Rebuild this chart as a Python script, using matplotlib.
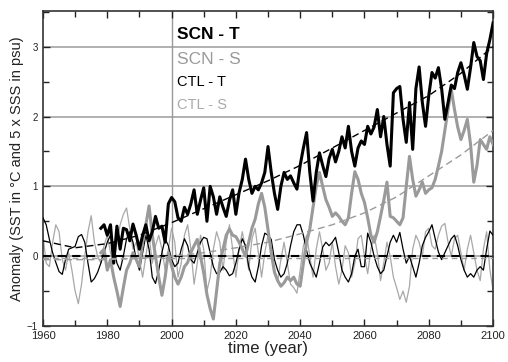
import numpy as np
import matplotlib
matplotlib.use("Agg")
import matplotlib.pyplot as plt
from matplotlib.ticker import MultipleLocator

plt.rcParams['font.family'] = ['Liberation Sans', 'DejaVu Sans']

# years
scn_years = list(range(1978, 2101))
ctl_years = list(range(1960, 2101))

# SCN - T (thick black), 1978..2100
scn_t = [0.40, 0.45, 0.30, 0.45, -0.10, 0.43, 0.10, 0.40, 0.38, 0.22,
         0.46, 0.30, 0.10, 0.30, 0.45, 0.22, 0.35, 0.57, 0.40, 0.43,
         0.20, 0.75, 0.84, 0.78, 0.55, 0.50, 0.70, 0.60, 0.75, 0.95,
         0.60, 0.80, 0.98, 0.50, 1.00, 0.85, 0.60, 0.85, 0.70, 0.57,
         0.80, 0.95, 0.60, 0.91, 1.10, 1.39, 1.10, 0.90, 1.00, 0.95,
         1.05, 1.20, 1.57, 1.20, 0.90, 0.67, 1.00, 1.20, 1.10, 1.15,
         1.05, 0.96, 1.30, 1.55, 1.77, 1.20, 0.79, 1.20, 1.48, 1.30,
         1.14, 1.40, 1.53, 1.35, 1.50, 1.71, 1.55, 1.86, 1.50, 1.29,
         1.55, 1.65, 1.60, 1.86, 1.75, 1.85, 2.10, 1.71, 2.00, 1.60,
         1.29, 2.34, 2.40, 2.43, 1.96, 1.63, 2.20, 1.53, 2.40, 2.71,
         2.20, 1.86, 2.30, 2.63, 2.55, 2.70, 2.40, 1.96, 2.20, 2.45,
         2.40, 2.63, 2.77, 2.60, 2.39, 2.70, 3.06, 2.86, 2.80, 2.53,
         2.90, 3.10, 3.34]

# SCN - S (thick grey), 1978..2100
scn_s = [0.05, 0.10, -0.20, -0.05, -0.30, -0.50, -0.72, -0.45, -0.20, -0.10,
         0.05, -0.05, -0.15, 0.20, 0.45, 0.72, 0.30, 0.00, -0.30, -0.56,
         -0.30, 0.05, -0.14, -0.30, -0.40, -0.30, -0.15, -0.09, 0.05, 0.15,
         0.24, 0.00, -0.24, -0.55, -0.75, -0.90, -0.50, -0.10, 0.10, 0.30,
         0.39, 0.30, 0.28, 0.20, 0.10, 0.00, 0.20, 0.40, 0.53, 0.75,
         0.90, 0.70, 0.38, 0.05, -0.23, -0.35, -0.43, -0.38, -0.30, -0.35,
         -0.30, -0.40, -0.43, -0.10, 0.20, 0.39, 0.70, 1.00, 1.20, 1.00,
         0.81, 0.70, 0.57, 0.62, 0.57, 0.50, 0.45, 0.55, 0.90, 1.21,
         1.10, 0.90, 0.77, 0.55, 0.30, 0.20, 0.35, 0.57, 0.80, 1.06,
         0.57, 0.55, 0.50, 0.45, 0.55, 1.00, 1.43, 1.10, 0.86, 0.95,
         1.06, 0.90, 0.95, 0.98, 1.10, 1.29, 1.50, 1.80, 2.10, 2.39,
         2.10, 1.85, 1.67, 1.80, 1.96, 1.60, 1.06, 1.30, 1.67, 1.60,
         1.53, 1.71, 1.60]

# CTL - T (thin black), 1960..2100
ctl_t = [0.55, 0.45, 0.24, 0.05, -0.09, -0.22, -0.26, -0.05, 0.10, 0.12,
         0.14, 0.28, 0.31, 0.20, -0.10, -0.37, -0.32, -0.23, -0.10, 0.05,
         0.20, 0.30, 0.15, -0.10, -0.20, 0.00, 0.25, 0.35, 0.20, -0.05,
         -0.20, 0.05, 0.30, 0.10, -0.30, -0.39, -0.20, 0.05, 0.25, 0.15,
         -0.05, -0.15, -0.10, 0.10, 0.25, 0.15, -0.05, -0.10, 0.05, 0.20,
         0.27, 0.25, 0.05, -0.15, -0.25, -0.23, -0.15, -0.20, -0.28, -0.25,
         -0.10, 0.10, 0.25, 0.15, -0.15, -0.30, -0.37, -0.15, 0.15, 0.33,
         0.30, 0.24, -0.05, -0.20, -0.30, -0.25, -0.10, 0.15, 0.35, 0.45,
         0.45, 0.30, 0.08, -0.10, -0.20, -0.30, -0.10, 0.13, 0.20, 0.15,
         0.20, 0.27, 0.05, -0.20, -0.30, -0.37, -0.25, 0.00, 0.10, -0.15,
         -0.15, 0.33, 0.20, 0.00, -0.15, -0.25, -0.20, 0.00, 0.20, 0.30,
         0.20, 0.34, 0.10, -0.10, 0.00, -0.15, -0.30, -0.10, 0.15, 0.27,
         0.35, 0.45, 0.25, 0.06, -0.05, 0.05, 0.15, 0.25, 0.30, 0.15,
         -0.05, -0.20, -0.30, -0.25, -0.30, -0.20, -0.15, -0.20, 0.10, 0.36,
         0.30]

# CTL - S (thin grey), 1960..2100
ctl_s = [0.30, -0.10, -0.15, 0.20, 0.45, 0.35, -0.05, -0.20, 0.05, -0.20,
         -0.50, -0.68, -0.40, 0.00, 0.35, 0.58, 0.20, 0.00, -0.10, 0.15,
         0.30, 0.05, -0.10, 0.20, 0.45, 0.60, 0.69, 0.40, 0.10, 0.20,
         -0.05, -0.30, 0.00, 0.30, -0.10, 0.15, 0.30, 0.10, -0.20, 0.10,
         0.40, 0.20, -0.30, -0.10, 0.30, 0.45, 0.10, -0.40, -0.10, 0.30,
         0.10, -0.50, -0.30, 0.10, 0.35, 0.20, -0.20, 0.20, 0.45, 0.10,
         -0.30, 0.10, 0.35, 0.10, -0.20, 0.25, 0.40, 0.05, -0.30, 0.05,
         0.30, 0.15, -0.20, -0.35, -0.05, 0.20, -0.10, -0.40, -0.45, -0.53,
         -0.20, 0.15, 0.30, 0.00, -0.30, 0.10, 0.35, 0.10, -0.20, -0.10,
         0.20, -0.15, -0.40, -0.20, 0.15, 0.05, -0.30, -0.10, 0.25, 0.30,
         0.00, -0.25, 0.10, 0.30, 0.05, -0.35, -0.10, 0.20, 0.00, -0.30,
         -0.45, -0.62, -0.50, -0.66, -0.43, 0.10, 0.30, 0.20, 0.00, 0.35,
         0.40, 0.15, 0.10, 0.30, 0.43, 0.47, 0.20, 0.00, 0.25, 0.30,
         0.05, -0.20, 0.10, 0.30, 0.05, -0.20, -0.35, 0.10, 0.35, -0.19,
         -0.49]

# trend curves, read at decadal points
trend_years = [1960, 1970, 1980, 1990, 2000, 2010, 2020, 2030,
               2040, 2050, 2060, 2070, 2080, 2090, 2100]
scn_t_trend = [0.22, 0.12, 0.18, 0.30, 0.48, 0.68, 0.88, 1.08,
               1.30, 1.55, 1.80, 2.05, 2.30, 2.62, 3.00]
scn_s_trend = [-0.05, -0.05, -0.05, -0.03, 0.00, 0.05, 0.12, 0.20,
               0.32, 0.45, 0.62, 0.85, 1.15, 1.45, 1.80]
ctl_t_trend = [0.0] * len(trend_years)
ctl_s_trend = [-0.02] * len(trend_years)

grey = '#9a9a9a'

fig = plt.figure(figsize=(5.08, 3.62), dpi=100)
ax = fig.add_axes([0.0846, 0.0994, 0.886, 0.870])

# grid lines
for v in [0, 1, 2, 3]:
    ax.axhline(v, color='#aaaaaa', lw=1.3, zorder=1)
ax.axvline(2000, color='#999999', lw=1.0, zorder=1)

ax.plot(ctl_years, ctl_s, color='#a8a8a8', lw=0.9, zorder=2)
ax.plot(ctl_years, ctl_t, color='black', lw=0.9, zorder=3)
ax.plot(scn_years, scn_s, color=grey, lw=2.2, zorder=4)
ax.plot(scn_years, scn_t, color='black', lw=2.2, zorder=5)

ax.plot(trend_years, ctl_s_trend, color=grey, lw=1.0, ls=(0, (4, 3)), zorder=6)
ax.plot(trend_years, ctl_t_trend, color='black', lw=1.5, ls=(0, (4, 3)), zorder=6)
ax.plot(trend_years, scn_s_trend, color=grey, lw=1.0, ls=(0, (5, 3)), zorder=6)
ax.plot(trend_years, scn_t_trend, color='black', lw=1.0, ls=(0, (5, 3)), zorder=6)

ax.set_xlim(1960, 2100)
ax.set_ylim(-1, 3.51)
ax.xaxis.set_major_locator(MultipleLocator(20))
ax.xaxis.set_minor_locator(MultipleLocator(10))
ax.yaxis.set_major_locator(MultipleLocator(1))
ax.yaxis.set_minor_locator(MultipleLocator(0.5))
ax.tick_params(which='both', direction='in', top=True, right=True,
               labelsize=8, colors='#222222')
ax.tick_params(which='major', length=5, width=1.0)
ax.tick_params(which='minor', length=4, width=1.0)
ax.tick_params(axis='y', labelsize=7)
for s in ax.spines.values():
    s.set_linewidth(1.2)
    s.set_color('#333333')

ax.set_xlabel('time (year)', fontsize=12, labelpad=0, color='#222222')
ax.set_ylabel('Anomaly (SST in \u00b0C and 5 x SSS in psu)', fontsize=10.5,
              labelpad=2, color='#222222')

# labels in place of a legend
lx = 2001.7
ax.text(lx, 3.17, 'SCN - T', fontsize=12.5, fontweight='bold', color='black', va='center')
ax.text(lx, 2.81, 'SCN - S', fontsize=12.5, color=grey, va='center')
ax.text(lx, 2.49, 'CTL - T', fontsize=10.5, color='black', va='center')
ax.text(lx, 2.16, 'CTL - S', fontsize=10.5, color='#aaaaaa', va='center')

fig.savefig('out.png', dpi=100)
